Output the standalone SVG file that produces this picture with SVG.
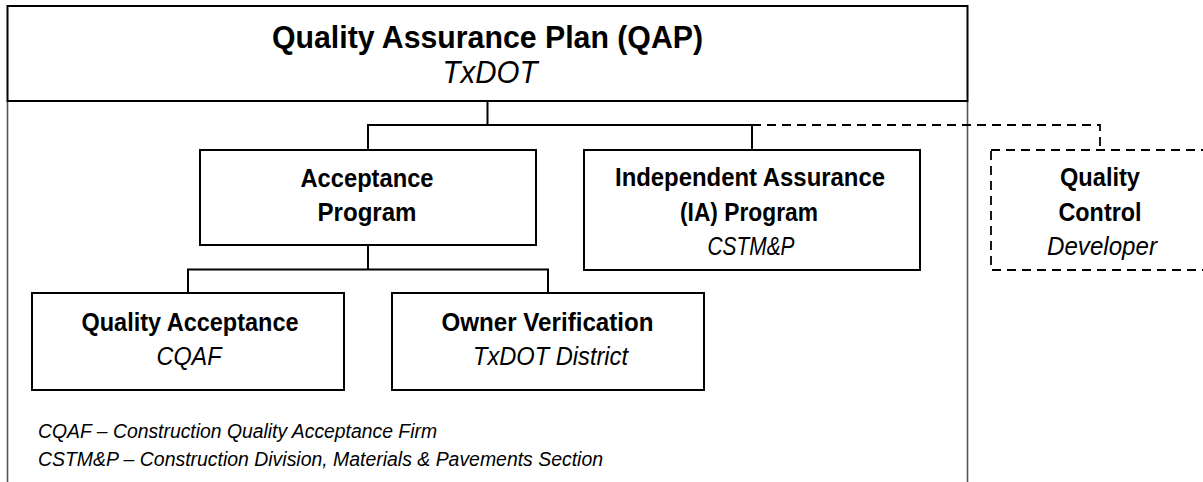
<svg xmlns="http://www.w3.org/2000/svg" width="1203" height="482" viewBox="0 0 1203 482">
<style>
.box{fill:#fff;stroke:#000;stroke-width:2}
.dbox{fill:#fff;stroke:#000;stroke-width:1.8;stroke-dasharray:9 6}
.frame{fill:none;stroke:#555;stroke-width:1.6}
.ln{fill:none;stroke:#000;stroke-width:2}
.dl{fill:none;stroke:#000;stroke-width:1.8;stroke-dasharray:9 6}
text{font-family:"Liberation Sans",Arial,sans-serif;fill:#000;text-anchor:middle}
.t{font-size:31px;font-weight:bold}
.ti{font-size:31px;font-style:italic}
.b{font-size:25px;font-weight:bold}
.i{font-size:25px;font-style:italic}
.fn{font-size:20px;font-style:italic;text-anchor:start}
</style>
<rect width="1203" height="482" fill="#fff"/>
<g id="frame">
<line class="frame" x1="7.5" y1="101" x2="7.5" y2="482"/>
<line class="frame" x1="967.5" y1="101" x2="967.5" y2="482"/>
</g>
<g id="connectors">
<line class="ln" x1="487.5" y1="101" x2="487.5" y2="125"/>
<polyline class="ln" points="368,150 368,125 752,125 752,150"/>
<polyline class="dl" points="752,125 1100,125 1100,150"/>
<line class="ln" x1="368" y1="245" x2="368" y2="269.5"/>
<polyline class="ln" points="188,293 188,269.5 548,269.5 548,293"/>
</g>
<g id="qap">
<rect class="box" x="7.5" y="6" width="960" height="95"/>
<text class="t" x="487.5" y="48" textLength="431" lengthAdjust="spacingAndGlyphs">Quality Assurance Plan (QAP)</text>
<text class="ti" x="490" y="83" textLength="95" lengthAdjust="spacingAndGlyphs">TxDOT</text>
</g>
<g id="acceptance">
<rect class="box" x="200" y="150" width="336" height="95"/>
<text class="b" x="367" y="187" textLength="133" lengthAdjust="spacingAndGlyphs">Acceptance</text>
<text class="b" x="367" y="221" textLength="99" lengthAdjust="spacingAndGlyphs">Program</text>
</g>
<g id="ia">
<rect class="box" x="584" y="150" width="336" height="120"/>
<text class="b" x="750" y="186" textLength="270" lengthAdjust="spacingAndGlyphs">Independent Assurance</text>
<text class="b" x="749" y="221" textLength="138" lengthAdjust="spacingAndGlyphs">(IA) Program</text>
<text class="i" x="751" y="255" textLength="87" lengthAdjust="spacingAndGlyphs">CSTM&amp;P</text>
</g>
<g id="qc">
<rect class="dbox" x="991" y="150" width="230" height="120"/>
<text class="b" x="1100" y="186" textLength="80" lengthAdjust="spacingAndGlyphs">Quality</text>
<text class="b" x="1100" y="221" textLength="83" lengthAdjust="spacingAndGlyphs">Control</text>
<text class="i" x="1102" y="255" textLength="110" lengthAdjust="spacingAndGlyphs">Developer</text>
</g>
<g id="qa">
<rect class="box" x="32" y="293" width="312" height="97"/>
<text class="b" x="190" y="331" textLength="217" lengthAdjust="spacingAndGlyphs">Quality Acceptance</text>
<text class="i" x="189" y="365" textLength="65" lengthAdjust="spacingAndGlyphs">CQAF</text>
</g>
<g id="ov">
<rect class="box" x="392" y="293" width="312" height="97"/>
<text class="b" x="547.5" y="331" textLength="212" lengthAdjust="spacingAndGlyphs">Owner Verification</text>
<text class="i" x="550.5" y="365" textLength="155" lengthAdjust="spacingAndGlyphs">TxDOT District</text>
</g>
<g id="notes">
<text class="fn" x="38" y="438" textLength="399" lengthAdjust="spacingAndGlyphs">CQAF – Construction Quality Acceptance Firm</text>
<text class="fn" x="38" y="466" textLength="565" lengthAdjust="spacingAndGlyphs">CSTM&amp;P – Construction Division, Materials &amp; Pavements Section</text>
</g>
</svg>
